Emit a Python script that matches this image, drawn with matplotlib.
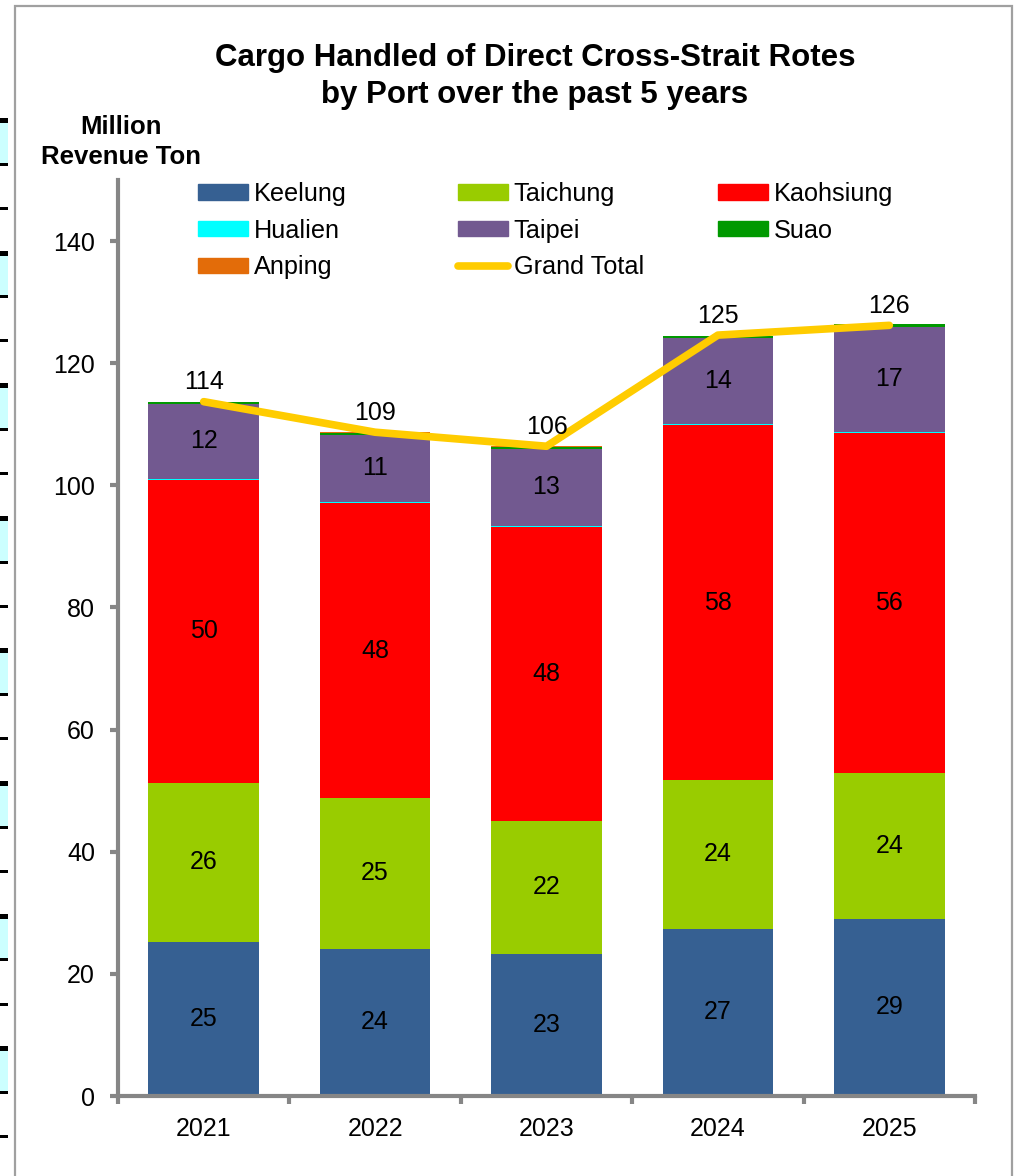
import matplotlib
matplotlib.use("Agg")
import matplotlib.pyplot as plt
import matplotlib.patches as mpatches
from matplotlib.lines import Line2D
import numpy as np

plt.rcParams['font.family'] = ['Liberation Sans', 'DejaVu Sans']

years = ["2021", "2022", "2023", "2024", "2025"]
ports = ["Keelung", "Taichung", "Kaohsiung", "Hualien", "Taipei", "Suao", "Anping"]
keelung = [25.2, 24.1, 23.3, 27.4, 29.0]
taichung = [26.1, 24.7, 21.8, 24.4, 23.9]
kaohsiung = [49.6, 48.3, 48.1, 58.0, 55.6]
hualien = [0.2, 0.2, 0.2, 0.2, 0.3]
taipei = [12.2, 11.0, 12.6, 14.1, 17.2]
suao = [0.3, 0.3, 0.3, 0.3, 0.4]
anping = [0.1, 0.1, 0.1, 0.1, 0.1]
grand_total = [113.7, 108.7, 106.4, 124.6, 126.2]

colors = ["#366092", "#99CC00", "#FF0000", "#00FFFF", "#725990", "#009900", "#E36C09"]
line_color = "#FFCC00"
axis_gray = "#868686"

W, H = 1018, 1176
fig = plt.figure(figsize=(W / 100, H / 100), dpi=100)

# outer chart frame
fig.add_artist(mpatches.Rectangle((15 / W, -0.01), 997 / W, 1 - 6 / H + 0.01,
                                  transform=fig.transFigure, fill=False,
                                  edgecolor="#A0A0A0", lw=1.6))

# spreadsheet leftovers on the left edge
for k in range(27):
    y = 120 + 44.2 * k
    if y > H:
        break
    if k % 3 == 0 and y + 44 < H:
        fig.add_artist(mpatches.Rectangle((0, 1 - (y + 44) / H), 8 / W, 44 / H,
                                          transform=fig.transFigure,
                                          facecolor="#CCFFFF", edgecolor="none"))
        fig.add_artist(mpatches.Rectangle((0, 1 - (y + 3) / H), 8 / W, 5 / H,
                                          transform=fig.transFigure,
                                          facecolor="black", edgecolor="none"))
    else:
        fig.add_artist(mpatches.Rectangle((0, 1 - (y + 1.5) / H), 8 / W, 3 / H,
                                          transform=fig.transFigure,
                                          facecolor="black", edgecolor="none"))

ax = fig.add_axes([118 / W, 1 - 1096 / H, (975 - 118) / W, (1096 - 180) / H])

x = np.arange(len(years))
series = [keelung, taichung, kaohsiung, hualien, taipei, suao, anping]
bottom = np.zeros(len(years))
for name, vals, c in zip(ports, series, colors):
    vals = np.array(vals)
    ax.bar(x, vals, 0.645, bottom=bottom, color=c, label=name, zorder=2)
    if name in ("Keelung", "Taichung", "Kaohsiung", "Taipei"):
        for xi, v, bt in zip(x, vals, bottom):
            ax.text(xi, bt + v / 2, "%.0f" % v, ha="center", va="center",
                    fontsize=18, color="black", zorder=4)
    bottom += vals

ax.plot(x, grand_total, color=line_color, lw=5.5, solid_capstyle="round",
        zorder=3, label="Grand Total")
for xi, v in zip(x, grand_total):
    ax.text(xi, v + 3.2, "%.0f" % v, ha="center", va="center", fontsize=18, zorder=4)

ax.set_xlim(-0.5, 4.5)
ax.set_ylim(0, 150)
ax.set_yticks(np.arange(0, 141, 20))
ax.set_xticks(x)
ax.set_xticklabels(years)
ax.set_xticks(np.arange(-0.5, 4.6, 1), minor=True)
ax.tick_params(axis="x", which="major", length=0, labelsize=18, pad=15)
ax.tick_params(axis="x", which="minor", length=6, width=3, color=axis_gray, direction="out")
ax.tick_params(axis="y", length=6, width=3, color=axis_gray, labelsize=18, pad=10.5)
for s in ("top", "right"):
    ax.spines[s].set_visible(False)
for s in ("left", "bottom"):
    ax.spines[s].set_color(axis_gray)
    ax.spines[s].set_linewidth(3)


def patch(c):
    return mpatches.Patch(color=c)


legend_cols = [
    ([patch(colors[0]), patch(colors[3]), patch(colors[6])], ["Keelung", "Hualien", "Anping"], 198),
    ([patch(colors[1]), patch(colors[4]),
      Line2D([], [], color=line_color, lw=5.5, solid_capstyle="round")],
     ["Taichung", "Taipei", "Grand Total"], 458),
    ([patch(colors[2]), patch(colors[5])], ["Kaohsiung", "Suao"], 718),
]
for hs, ls, px in legend_cols:
    fig.legend(hs, ls, loc="upper left", bbox_to_anchor=(px / W, 1 - 182 / H),
               bbox_transform=fig.transFigure, frameon=False, fontsize=18.2,
               handlelength=1.98, handleheight=0.55, handletextpad=0.22,
               labelspacing=0.5, borderpad=0, borderaxespad=0)

fig.text(535 / W, 1 - 58 / H, "Cargo Handled of Direct Cross-Strait Rotes",
         ha="center", va="center", fontsize=22.5, fontweight="bold")
fig.text(535 / W, 1 - 95 / H, "by Port over the past 5 years",
         ha="center", va="center", fontsize=22.5, fontweight="bold")
fig.text(121 / W, 1 - 127 / H, "Million", ha="center", va="center",
         fontsize=18.5, fontweight="bold")
fig.text(121 / W, 1 - 157 / H, "Revenue Ton", ha="center", va="center",
         fontsize=18.5, fontweight="bold")

fig.savefig("out.png", dpi=100)
